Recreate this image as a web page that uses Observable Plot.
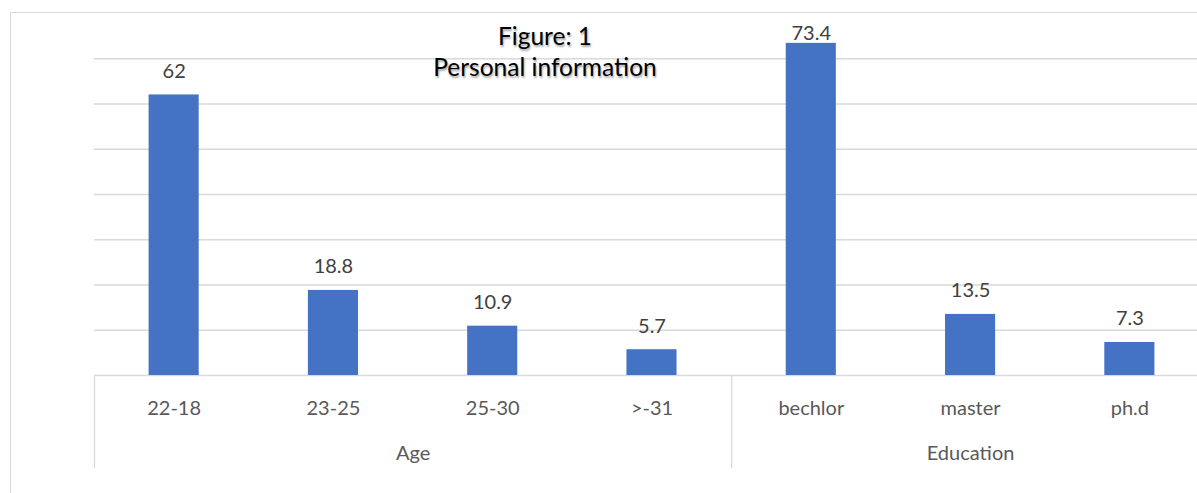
<!DOCTYPE html>
<html>
<head>
<meta charset="utf-8">
<script src="https://cdn.jsdelivr.net/npm/d3@7"></script>
<script src="https://cdn.jsdelivr.net/npm/@observablehq/plot@0.6"></script>
<style>
  html, body { margin: 0; padding: 0; background: #ffffff; }
  #wrap { position: relative; width: 1197px; height: 493px; overflow: hidden; }
  #frame { position: absolute; left: 10px; top: 12px; width: 1300px; height: 600px;
           border-left: 1.5px solid #d9d9d9; border-top: 1.5px solid #d9d9d9; box-sizing: border-box; }
  #title { position: absolute; left: 345px; width: 400px; top: 20px; text-align: center;
           font-family: Lato, sans-serif; font-size: 24.5px; line-height: 31px; color: #000;
           text-shadow: 1px 1.5px 2px rgba(0,0,0,0.35); pointer-events: none; }
  #chart { position: absolute; left: 0; top: 0; }
</style>
</head>
<body>
<div id="wrap">
  <div id="frame"></div>
  <div id="chart"></div>
  <div id="title">Figure: 1<br>Personal information</div>
</div>
<script>
const categories = ["22-18", "23-25", "25-30", ">-31", "bechlor", "master", "ph.d"];
const values = [62, 18.8, 10.9, 5.7, 73.4, 13.5, 7.3];
const groups = ["Age", "Age", "Age", "Age", "Education", "Education", "Education"];
const groupNames = ["Age", "Education"];
const yTicks = [0, 10, 20, 30, 40, 50, 60, 70];
const yMax = 80;

const data = categories.map((c, i) => ({i, category: c, value: values[i], group: groups[i]}));
const groupInfo = groupNames.map(g => {
  const idx = data.filter(d => d.group === g).map(d => d.i);
  const start = d3.min(idx), end = d3.max(idx) + 1;
  return {group: g, start, center: (start + end) / 2};
});
const nearTop = d => d.value > yMax - 10;

const font = "Lato, sans-serif";
const labelOpts = {x: d => d.i + 0.5, y: "value", text: d => String(d.value), lineAnchor: "bottom",
                   fontSize: 20, fill: "#404040", fontFamily: font};
const chart = Plot.plot({
  width: 1197,
  height: 493,
  marginTop: 13,
  marginBottom: 118,
  marginLeft: 94,
  marginRight: 0,
  style: {fontFamily: font, background: "transparent"},
  x: {domain: [0, categories.length], range: [94, 1209], axis: null},
  y: {domain: [0, yMax], axis: null},
  marks: [
    Plot.ruleY(yTicks, {stroke: "#d9d9d9", strokeWidth: 1.3}),
    Plot.rectY(data, {x1: d => d.i, x2: d => d.i + 1, y: "value", fill: "#4472c4", insetLeft: 54.6, insetRight: 54.6}),
    Plot.text(data.filter(d => !nearTop(d)), {...labelOpts, dy: -17}),
    Plot.text(data.filter(nearTop), {...labelOpts, dy: -3}),
    Plot.text(data, {x: d => d.i + 0.5, frameAnchor: "bottom", text: "category", lineAnchor: "bottom", dy: 39,
                     fontSize: 20, fill: "#595959", fontFamily: font}),
    Plot.text(groupInfo, {x: "center", frameAnchor: "bottom", text: "group", lineAnchor: "bottom", dy: 84,
                     fontSize: 20, fill: "#595959", fontFamily: font}),
    Plot.axisX({ticks: groupInfo.map(g => g.start), tickSize: 93, tickFormat: () => "", stroke: "#d9d9d9",
                strokeWidth: 1.3, strokeOpacity: 1, anchor: "bottom", label: null})
  ]
});
document.getElementById("chart").appendChild(chart);
</script>
</body>
</html>
